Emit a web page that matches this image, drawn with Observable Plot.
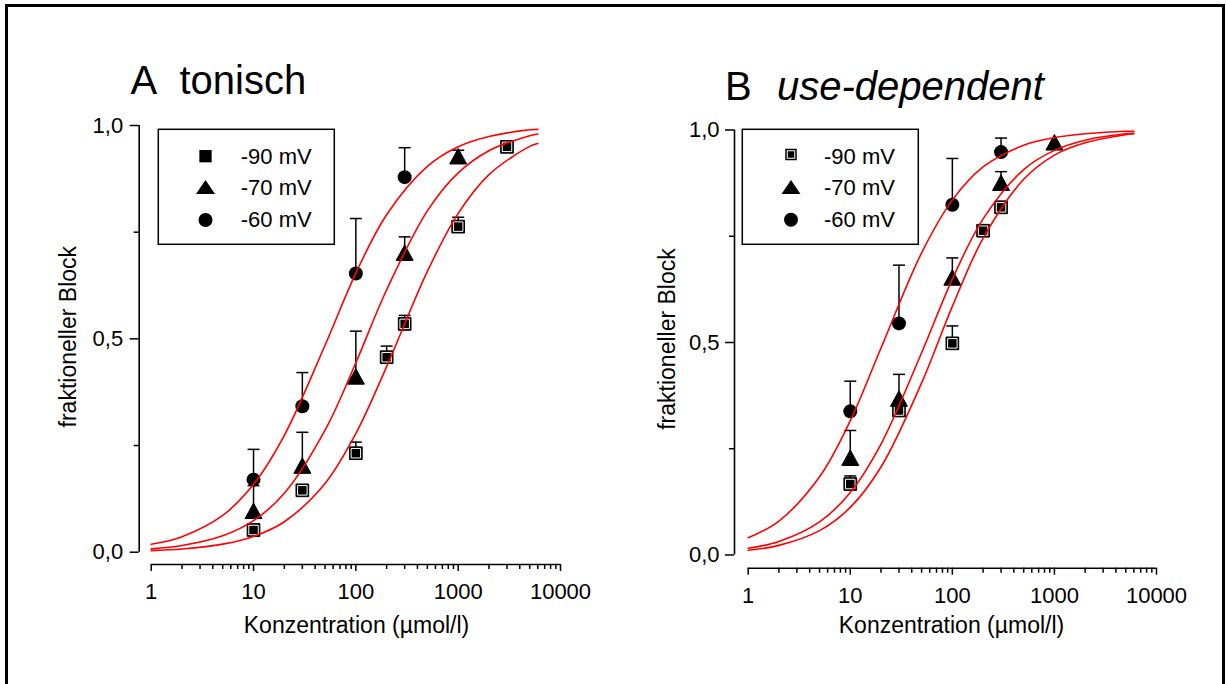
<!DOCTYPE html>
<html><head><meta charset="utf-8">
<script src="https://cdn.jsdelivr.net/npm/d3@7"></script>
<script src="https://cdn.jsdelivr.net/npm/@observablehq/plot@0.6"></script>
<style>
html,body{margin:0;padding:0;background:#fff;overflow:hidden;}
#page{position:relative;width:1226px;height:684px;overflow:hidden;font-family:"Liberation Sans",Arial,sans-serif;color:#000;background:#fff;}
#border{position:absolute;left:5px;top:4px;width:1214px;height:720px;border:3px solid #000;border-bottom:none;}
.panel{position:absolute;top:0;}
.panel svg{display:block;max-width:none;}
#overlay{position:absolute;left:0;top:0;pointer-events:none;}
</style></head>
<body><div id="page"><div id="border"></div></div>
<script>
// ---------- data ----------
const xDomain = [1, 10000];
const yDomain = [0, 1];
const xMajorTicks = [1, 10, 100, 1000, 10000];
const xMinorTicks = [2,3,4,5,6,7,8,9, 20,30,40,50,60,70,80,90, 200,300,400,500,600,700,800,900, 2000,3000,4000,5000,6000,7000,8000,9000];
const yMajorTicks = [0, 0.5, 1];
const yTickLabels = ["0,0", "0,5", "1,0"];
const yMinorTicks = [0.25, 0.75];
const series = ["-90 mV", "-70 mV", "-60 mV"];

// Panel A (tonisch): measured points and upper error bars
const aConc90 = [10, 30, 100, 200, 300, 1000, 3000];
const aBlock90 = [0.052, 0.145, 0.232, 0.457, 0.535, 0.763, 0.950];
const aErr90 = [0.066, null, 0.258, 0.483, 0.555, 0.785, null];
const aConc70 = [10, 30, 100, 300, 1000];
const aBlock70 = [0.097, 0.203, 0.412, 0.702, 0.928];
const aErr70 = [0.156, 0.281, 0.518, 0.739, 0.942];
const aConc60 = [10, 30, 100, 300];
const aBlock60 = [0.170, 0.342, 0.653, 0.879];
const aErr60 = [0.241, 0.421, 0.782, 0.948];

// Panel B (use-dependent)
const bConc90 = [10, 30, 100, 200, 300];
const bBlock90 = [0.167, 0.340, 0.498, 0.763, 0.818];
const bErr90 = [0.186, null, 0.539, null, 0.832];
const bConc70 = [10, 30, 100, 300, 1000];
const bBlock70 = [0.229, 0.368, 0.653, 0.876, 0.971];
const bErr70 = [0.293, 0.425, 0.699, 0.902, null];
const bConc60 = [10, 30, 100, 300];
const bBlock60 = [0.338, 0.545, 0.824, 0.948];
const bErr60 = [0.409, 0.682, 0.933, 0.981];

// fitted curves
const curveConc = [1, 2, 5, 10, 20, 50, 100, 200, 500, 1000, 2000, 5000, 6000];
const aFit90 = [0.0038, 0.0076, 0.0189, 0.037, 0.0714, 0.161, 0.278, 0.435, 0.658, 0.794, 0.885, 0.951, 0.958];
const aFit70 = [0.0079, 0.0157, 0.0385, 0.074, 0.138, 0.286, 0.444, 0.615, 0.800, 0.889, 0.941, 0.976, 0.980];
const aFit60 = [0.0185, 0.0364, 0.0862, 0.159, 0.274, 0.485, 0.654, 0.791, 0.904, 0.950, 0.974, 0.990, 0.991];
const bFit90 = [0.0111, 0.0227, 0.0573, 0.112, 0.207, 0.405, 0.585, 0.745, 0.884, 0.941, 0.970, 0.989, 0.991];
const bFit70 = [0.0159, 0.0319, 0.078, 0.147, 0.261, 0.476, 0.649, 0.791, 0.907, 0.952, 0.976, 0.991, 0.992];
const bFit60 = [0.0405, 0.0798, 0.184, 0.316, 0.487, 0.711, 0.835, 0.913, 0.964, 0.982, 0.991, 0.997, 0.997];

// ---------- helpers ----------
const rows = (conc, block, err, s) => conc.map((c, i) => ({c, b: block[i], e: err[i], s}));
const fitRows = (vals, s) => curveConc.map((c, i) => ({c, f: vals[i], s}));
const sqSym = s => ({draw(ctx) { ctx.rect(-s / 2, -s / 2, s, s); }});
const triSym = (w, h) => ({draw(ctx) { ctx.moveTo(0, -h / 2); ctx.lineTo(w / 2, h / 2); ctx.lineTo(-w / 2, h / 2); ctx.closePath(); }});
const capSym = w => ({draw(ctx) { ctx.moveTo(-w / 2, 0); ctx.lineTo(w / 2, 0); }});
const FONT = "'Liberation Sans', Arial, Helvetica, sans-serif";

function panel(cfg) {
  const pts = [...cfg.p90, ...cfg.p70, ...cfg.p60];
  const withErr = pts.filter(d => d.e != null);
  const fits = [...cfg.f90, ...cfg.f70, ...cfg.f60];
  return Plot.plot({
    width: cfg.width, height: 684,
    marginLeft: cfg.ml, marginRight: cfg.mr, marginTop: cfg.mt, marginBottom: cfg.mb,
    style: {fontFamily: FONT, fontSize: "22px", color: "#000", background: "transparent", overflow: "visible"},
    x: {type: "log", domain: xDomain, insetLeft: cfg.il},
    y: {domain: yDomain, insetBottom: cfg.ib},
    marks: [
      Plot.ruleX([xDomain[0]], {y1: yDomain[0], y2: yDomain[1], dx: -cfg.il, stroke: "#000", strokeWidth: 1.6}),
      Plot.ruleY([yDomain[0]], {x1: xDomain[0], x2: xDomain[1], dy: cfg.ib, stroke: "#000", strokeWidth: 1.6}),
      Plot.axisY(yMinorTicks, {tickSize: 5, tickFormat: () => "", strokeWidth: 1.5, label: null}),
      Plot.axisY(yMajorTicks, {tickSize: 9, tickPadding: cfg.ytp, strokeWidth: 1.5, label: null,
        tickFormat: d => yTickLabels[yMajorTicks.indexOf(d)], fontSize: 22}),
      Plot.axisX(xMinorTicks, {tickSize: 5, tickFormat: () => "", strokeWidth: 1.5, label: null}),
      Plot.axisX(xMajorTicks, {tickSize: 7, tickPadding: 12, strokeWidth: 1.5, label: null,
        tickFormat: d => String(d), fontSize: 22}),
      // error bars
      Plot.ruleX(withErr, {x: "c", y1: "b", y2: "e", stroke: "#000", strokeWidth: 1.5}),
      Plot.dot(withErr, {x: "c", y: "e", symbol: capSym(12), stroke: "#000", fill: "none", strokeWidth: 1.5}),
      // markers
      Plot.dot(cfg.p90, {x: "c", y: "b", symbol: sqSym(12.7), fill: "#000", stroke: "#000", strokeWidth: 1}),
      Plot.dot(cfg.p90, {x: "c", y: "b", symbol: sqSym(9.5), fill: "none", stroke: "#fff", strokeWidth: 1}),
      Plot.dot(cfg.p70, {x: "c", y: "b", symbol: triSym(17, 15.5), fill: "#000", stroke: "#000", strokeWidth: 1}),
      Plot.dot(cfg.p60, {x: "c", y: "b", symbol: "circle", r: 7, fill: "#000", stroke: "none"}),
      // fits on top
      Plot.line(fits, {x: "c", y: "f", z: "s", stroke: "#ff0000", strokeWidth: 1.6, curve: "catmull-rom"})
    ]
  });
}

const page = document.getElementById("page");
function place(svg, left, width) {
  const d = document.createElement("div");
  d.className = "panel";
  d.style.left = left + "px";
  d.style.width = width + "px";
  d.appendChild(svg);
  page.appendChild(d);
}

place(panel({
  width: 600, ml: 138.7, mr: 40, mt: 125, mb: 120, il: 12, ib: 12.3, ytp: 7,
  p90: rows(aConc90, aBlock90, aErr90, series[0]),
  p70: rows(aConc70, aBlock70, aErr70, series[1]),
  p60: rows(aConc60, aBlock60, aErr60, series[2]),
  f90: fitRows(aFit90, series[0]), f70: fitRows(aFit70, series[1]), f60: fitRows(aFit60, series[2])
}), 0, 600);

place(panel({
  width: 626, ml: 134, mr: 70, mt: 129.5, mb: 116.3, il: 13.7, ib: 13.2, ytp: 6,
  p90: rows(bConc90, bBlock90, bErr90, series[0]),
  p70: rows(bConc70, bBlock70, bErr70, series[1]),
  p60: rows(bConc60, bBlock60, bErr60, series[2]),
  f90: fitRows(bFit90, series[0]), f70: fitRows(bFit70, series[1]), f60: fitRows(bFit60, series[2])
}), 600, 626);

// ---------- titles, axis titles, legends (overlay) ----------
const NS = "http://www.w3.org/2000/svg";
const ov = document.createElementNS(NS, "svg");
ov.setAttribute("id", "overlay");
ov.setAttribute("width", 1226);
ov.setAttribute("height", 684);
ov.setAttribute("font-family", FONT);
page.appendChild(ov);
function el(tag, attrs, text) {
  const e = document.createElementNS(NS, tag);
  for (const k in attrs) e.setAttribute(k, attrs[k]);
  if (text != null) e.textContent = text;
  ov.appendChild(e);
  return e;
}
// panel titles
el("text", {x: 130.5, y: 94, "font-size": 40}, "A");
el("text", {x: 179.5, y: 94, "font-size": 40}, "tonisch");
el("text", {x: 725, y: 99.5, "font-size": 40}, "B");
el("text", {x: 777, y: 99.5, "font-size": 40, "font-style": "italic"}, "use-dependent");
// axis titles
const xTitle = "Konzentration (µmol/l)";
const yTitle = "fraktioneller Block";
el("text", {x: 356.5, y: 633, "font-size": 23, "text-anchor": "middle"}, xTitle);
el("text", {x: 951.5, y: 633, "font-size": 23, "text-anchor": "middle"}, xTitle);
el("text", {transform: "translate(75.9,336.7) rotate(-90)", "font-size": 23, "text-anchor": "middle"}, yTitle);
el("text", {transform: "translate(674.6,339) rotate(-90)", "font-size": 23, "text-anchor": "middle"}, yTitle);

// legends
function legend(box, symX, textX, rowsY, baseY, ringed, sq) {
  el("rect", {x: box[0], y: box[1], width: box[2], height: box[3], fill: "#fff", stroke: "#000", "stroke-width": 1.5});
  const [sx, sy] = [symX, rowsY[0]];
  el("rect", {x: sx - sq / 2, y: sy - sq / 2, width: sq, height: sq, fill: "#000"});
  if (ringed) el("rect", {x: sx - sq / 2 + 2, y: sy - sq / 2 + 2, width: sq - 4, height: sq - 4, fill: "none", stroke: "#fff", "stroke-width": 1});
  const ty = rowsY[1], tw = 19, th = 14;
  el("path", {d: `M${symX},${ty - th / 2}L${symX + tw / 2},${ty + th / 2}L${symX - tw / 2},${ty + th / 2}Z`, fill: "#000"});
  el("circle", {cx: symX, cy: rowsY[2], r: 7, fill: "#000"});
  series.forEach((s, i) => el("text", {x: textX, y: baseY[i], "font-size": 22}, s));
}
legend([158.3, 129.3, 176, 115], 205.5, 240.8, [156.2, 187, 220], [163.5, 194.5, 226.8], false, 12.3);
legend([742.3, 129.3, 176, 115], 791, 824, [154.5, 187, 219.8], [163.5, 194.5, 226.8], true, 11.5);
</script>
</body></html>
